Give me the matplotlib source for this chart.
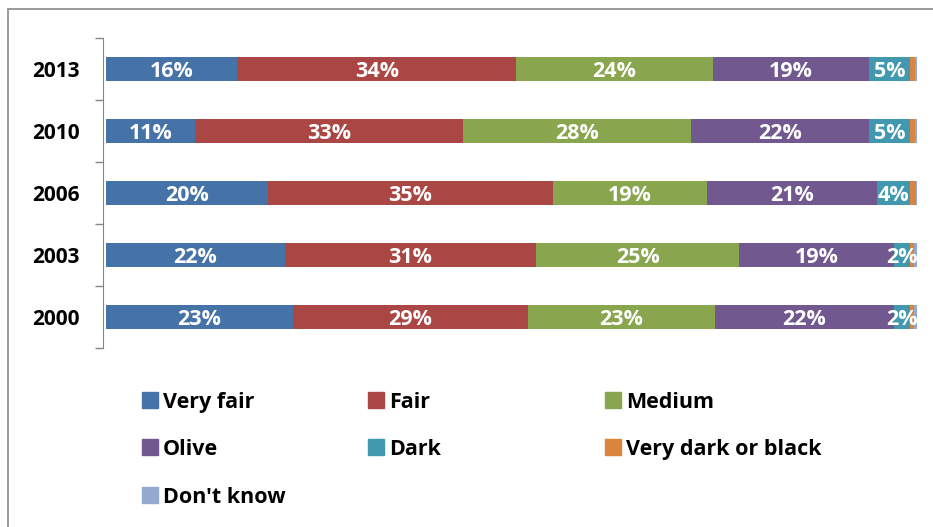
import matplotlib.pyplot as plt
from matplotlib.patches import Rectangle
import numpy as np

# data (percent)
years = ['2000', '2003', '2006', '2010', '2013']
series = ['Very fair', 'Fair', 'Medium', 'Olive', 'Dark', 'Very dark or black', "Don't know"]
values = {
    'Very fair':          [23, 22, 20, 11, 16],
    'Fair':               [29, 31, 35, 33, 34],
    'Medium':             [23, 25, 19, 28, 24],
    'Olive':              [22, 19, 21, 22, 19],
    'Dark':               [2, 2, 4, 5, 5],
    'Very dark or black': [0.5, 0.5, 0.7, 0.6, 0.6],
    "Don't know":         [0.4, 0.4, 0.2, 0.3, 0.3],
}
colors = ['#4572A7', '#AA4643', '#89A54E', '#71588F', '#4198AF', '#DB843D', '#93A9CF']

plt.rcParams['font.family'] = ['Open Sans', 'DejaVu Sans']

fig = plt.figure(figsize=(9.33, 5.27), dpi=100)
ax = fig.add_axes([0.1136, 0.3397, 0.983 - 0.1136, 0.9279 - 0.3397])

# spines first: moving a spine resets the ticks
for sp in ['top', 'right', 'bottom']:
    ax.spines[sp].set_visible(False)
ax.spines['left'].set_color('#868686')
ax.spines['left'].set_position(('outward', 2))

totals = np.sum([values[s] for s in series], axis=0)
y = np.arange(len(years))
left = np.zeros(len(years))
for name, col in zip(series, colors):
    w = np.array(values[name]) / totals
    ax.barh(y, w, left=left, height=0.4, color=col, label=name)
    for yi, (l, wi, v) in enumerate(zip(left, w, values[name])):
        if v >= 2:
            ax.text(l + wi / 2, yi, f'{v:.0f}%', ha='center', va='center_baseline',
                    color='white', fontsize=15.5, fontweight='bold')
    left += w

ax.set_xlim(0, 1)
ax.set_ylim(-0.5, len(years) - 0.5)
ax.set_yticks(y)
ax.set_yticks(np.arange(-0.5, len(years)), minor=True)
ax.tick_params(axis='y', which='major', length=0, pad=17)
ax.tick_params(axis='y', which='minor', length=6, width=1, color='#868686', direction='out')
ax.set_yticklabels(years, fontsize=15, fontweight='bold')
ax.set_xticks([])

# legend laid out in rows of three
col_x = [142, 368, 605]
row_y = [400, 447, 495]
W, H = 933, 527
for i, (name, col) in enumerate(zip(series, colors)):
    cx = col_x[i % 3]
    cy = row_y[i // 3]
    fig.add_artist(Rectangle((cx / W, 1 - (cy + 8) / H), 16 / W, 16 / H,
                             transform=fig.transFigure, color=col))
    fig.text((cx + 21) / W, 1 - cy / H, name, ha='left', va='center_baseline',
             fontsize=15.5, fontweight='bold')

# chart area border
fig.add_artist(Rectangle((8 / W, -0.1), 1.2, 1 - 9 / H + 0.1, transform=fig.transFigure,
                         fill=False, edgecolor='#898989', linewidth=1.2, clip_on=False))

fig.savefig('out.png', dpi=100)
